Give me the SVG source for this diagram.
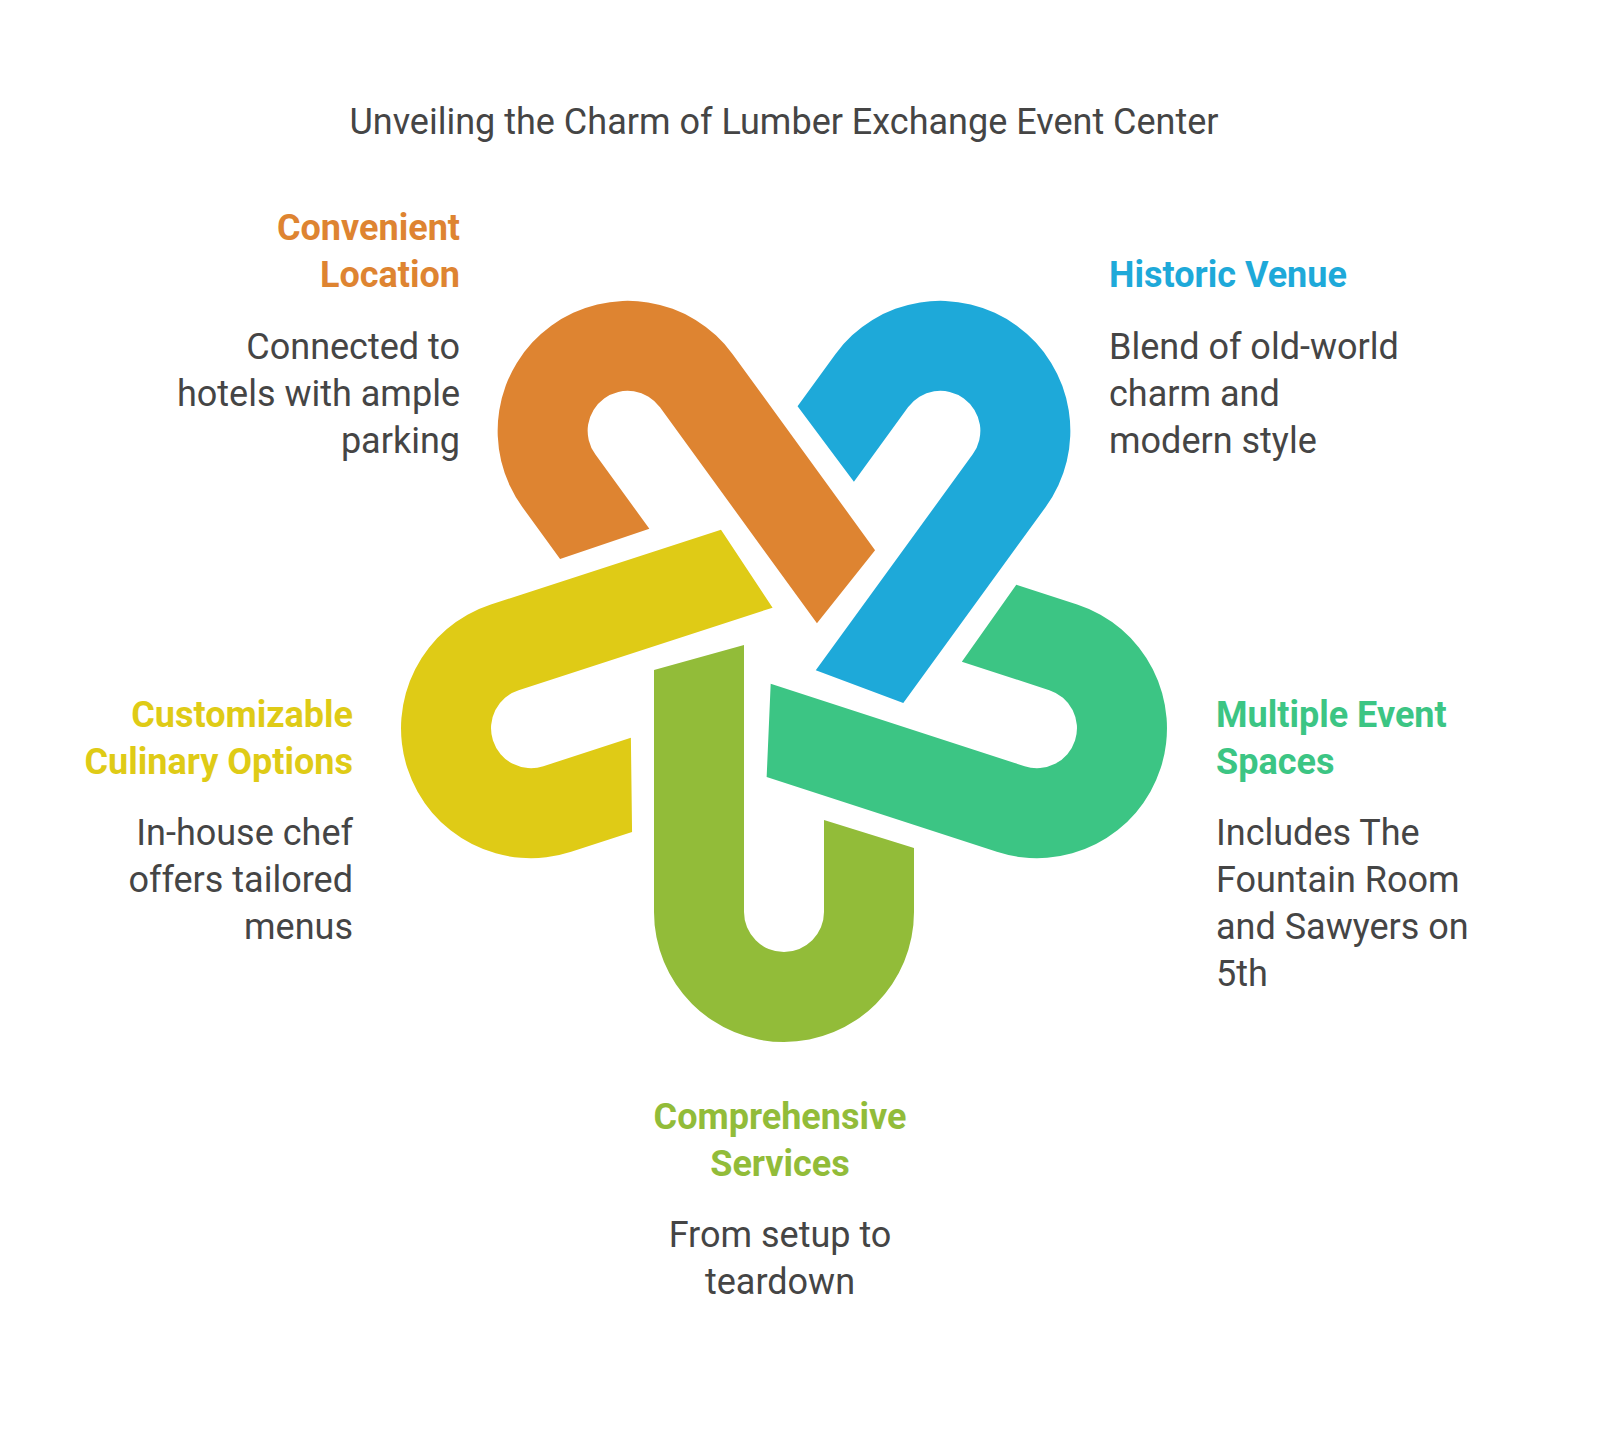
<svg xmlns="http://www.w3.org/2000/svg" width="1600" height="1431" viewBox="0 0 1600 1431">
<style>
text{font-family:Roboto,"Liberation Sans",sans-serif;font-size:36px;fill:#454545}
.h{font-weight:bold}
.t{font-size:36px}
</style>
<defs>
<path id="u" d="M -130,-242 L -40,-267 L -40,0 A 40 40 0 0 0 40,0 L 40,-92 L 130,-64 L 130,0 A 130 130 0 0 1 -130,0 Z"/>
</defs>
<rect width="1600" height="1431" fill="#fff"/>
<text class="t" x="784" y="134" text-anchor="middle">Unveiling the Charm of Lumber Exchange Event Center</text>
<g id="shapes">
<use href="#u" fill="#92BC39" transform="rotate(0 784 646) translate(784 912)"/>
<use href="#u" fill="#DFCB16" transform="rotate(72 784 646) translate(784 912)"/>
<use href="#u" fill="#DE8431" transform="rotate(144 784 646) translate(784 912)"/>
<use href="#u" fill="#1EA9D9" transform="rotate(216 784 646) translate(784 912)"/>
<use href="#u" fill="#3CC584" transform="rotate(288 784 646) translate(784 912)"/>
</g>
<g id="convenient" text-anchor="end">
<text class="h" x="460" y="240" fill="#DE8431" style="fill:#DE8431">Convenient</text>
<text class="h" x="460" y="287" style="fill:#DE8431">Location</text>
<text x="460" y="359">Connected to</text>
<text x="460" y="406">hotels with ample</text>
<text x="460" y="453">parking</text>
</g>
<g id="historic">
<text class="h" x="1109" y="287" style="fill:#1EA9D9">Historic Venue</text>
<text x="1109" y="359">Blend of old-world</text>
<text x="1109" y="406">charm and</text>
<text x="1109" y="453">modern style</text>
</g>
<g id="multiple">
<text class="h" x="1216" y="727" style="fill:#3CC584">Multiple Event</text>
<text class="h" x="1216" y="774" style="fill:#3CC584">Spaces</text>
<text x="1216" y="845">Includes The</text>
<text x="1216" y="892">Fountain Room</text>
<text x="1216" y="939">and Sawyers on</text>
<text x="1216" y="986">5th</text>
</g>
<g id="customizable" text-anchor="end">
<text class="h" x="353" y="727" style="fill:#DFCB16">Customizable</text>
<text class="h" x="353" y="774" style="fill:#DFCB16">Culinary Options</text>
<text x="353" y="845">In-house chef</text>
<text x="353" y="892">offers tailored</text>
<text x="353" y="939">menus</text>
</g>
<g id="comprehensive" text-anchor="middle">
<text class="h" x="780" y="1129" style="fill:#92BC39">Comprehensive</text>
<text class="h" x="780" y="1176" style="fill:#92BC39">Services</text>
<text x="780" y="1247">From setup to</text>
<text x="780" y="1294">teardown</text>
</g>
</svg>
